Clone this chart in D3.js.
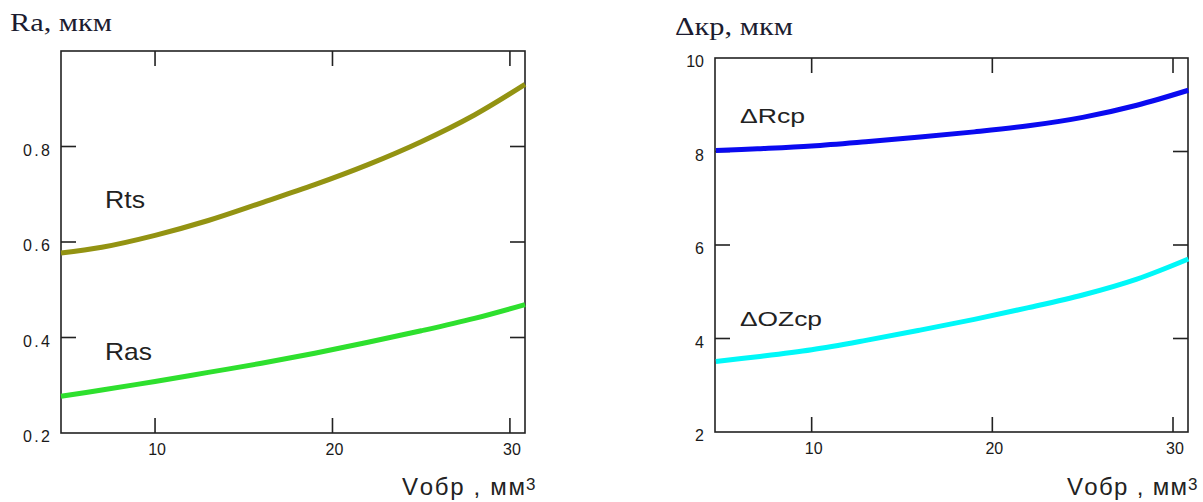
<!DOCTYPE html>
<html>
<head>
<meta charset="utf-8">
<script src="https://cdn.jsdelivr.net/npm/d3@7"></script>
<style>
  html, body { margin: 0; padding: 0; background: #fff; }
  svg { display: block; }
</style>
</head>
<body>
<svg id="chart" width="1203" height="502"></svg>
<script>
// ---- data ----
const vobr = [4.7, 7, 10, 13, 16, 19, 22, 25, 28, 30.85];
const Rts   = [0.577, 0.589, 0.614, 0.645, 0.682, 0.72, 0.762, 0.81, 0.866, 0.93];
const Ras   = [0.277, 0.29, 0.308, 0.327, 0.346, 0.367, 0.39, 0.414, 0.44, 0.469];
const dRcp  = [8.02, 8.06, 8.12, 8.21, 8.31, 8.42, 8.55, 8.73, 8.99, 9.31];
const dOZcp = [3.51, 3.61, 3.76, 3.96, 4.18, 4.41, 4.66, 4.93, 5.27, 5.7];

const xTicks = [10, 20, 30];
const leftYTicks = [0.2, 0.4, 0.6, 0.8];
const leftYInner = [0.4, 0.6, 0.8];
const rightYTicks = [2, 4, 6, 8, 10];
const rightYInner = [4, 6, 8];

const svg = d3.select("#chart");

function panel(cfg) {
  const x = d3.scaleLinear().domain(cfg.xDomain).range([cfg.x0, cfg.x1]);
  const y = d3.scaleLinear().domain(cfg.yDomain).range([cfg.y0, cfg.y1]);
  const g = svg.append("g");
  const tl = 15;

  // frame
  g.append("rect").attr("x", cfg.x0).attr("y", cfg.y1)
    .attr("width", cfg.x1 - cfg.x0).attr("height", cfg.y0 - cfg.y1)
    .attr("fill", "none").attr("stroke", "#222").attr("stroke-width", 1.6);

  // inner ticks x (top & bottom)
  xTicks.forEach(t => {
    g.append("line").attr("x1", x(t)).attr("x2", x(t)).attr("y1", cfg.y0).attr("y2", cfg.y0 - tl)
      .attr("stroke", "#222").attr("stroke-width", 1.6);
    g.append("line").attr("x1", x(t)).attr("x2", x(t)).attr("y1", cfg.y1).attr("y2", cfg.y1 + tl)
      .attr("stroke", "#222").attr("stroke-width", 1.6);
  });
  // inner ticks y (left & right)
  cfg.yInner.forEach(t => {
    g.append("line").attr("x1", cfg.x0).attr("x2", cfg.x0 + tl).attr("y1", y(t)).attr("y2", y(t))
      .attr("stroke", "#222").attr("stroke-width", 1.6);
    g.append("line").attr("x1", cfg.x1 - tl).attr("x2", cfg.x1).attr("y1", y(t)).attr("y2", y(t))
      .attr("stroke", "#222").attr("stroke-width", 1.6);
  });

  // tick labels
  xTicks.forEach(t => {
    g.append("text").attr("x", x(t) + 2).attr("y", cfg.y0 + 22)
      .attr("text-anchor", "middle").attr("font-family", "Liberation Sans, Arial, sans-serif")
      .attr("font-size", 16).attr("fill", "#1a1a1a").text(t);
  });
  cfg.yTicks.forEach(t => {
    const txt = g.append("text").attr("x", cfg.x0 - 11).attr("y", y(t) + 9)
      .attr("text-anchor", "end").attr("font-family", "Liberation Sans, Arial, sans-serif")
      .attr("font-size", 16).attr("fill", "#1a1a1a").text(cfg.yFmt(t));
    if (cfg.yLabelLen) txt.attr("textLength", cfg.yLabelLen).attr("lengthAdjust", "spacing");
  });

  // lines
  const line = d3.line().x(d => x(d[0])).y(d => y(d[1])).curve(d3.curveCatmullRom.alpha(0.5));
  cfg.series.forEach(s => {
    g.append("path").datum(vobr.map((v, i) => [v, s.values[i]]))
      .attr("d", line).attr("fill", "none").attr("stroke", s.color)
      .attr("stroke-width", 5).attr("stroke-linecap", "butt");
    g.append("text").attr("x", s.lx).attr("y", s.ly)
      .attr("font-family", "Liberation Sans, Arial, sans-serif")
      .attr("font-size", s.fs).attr("fill", "#222")
      .attr("textLength", s.len).attr("lengthAdjust", "spacingAndGlyphs")
      .text(s.label);
  });

  // y title
  g.append("text").attr("x", cfg.ytX).attr("y", cfg.ytY)
    .attr("font-family", "Liberation Serif, Times New Roman, serif")
    .attr("font-size", 25).attr("fill", "#1c1c30")
    .attr("textLength", cfg.ytLen).attr("lengthAdjust", "spacingAndGlyphs")
    .text(cfg.yTitle);

  // x title
  g.append("text").attr("x", cfg.xtX).attr("y", 495)
    .attr("font-family", "Liberation Sans, Arial, sans-serif")
    .attr("font-size", 24).attr("fill", "#222")
    .attr("textLength", cfg.xtLen).attr("lengthAdjust", "spacing")
    .text("Vобр , мм");
  g.append("text").attr("x", cfg.xtX + cfg.xtLen + 1).attr("y", 490)
    .attr("font-family", "Liberation Sans, Arial, sans-serif")
    .attr("font-size", 17).attr("fill", "#222").text("3");
}

panel({
  x0: 61, x1: 525, y0: 433, y1: 51,
  xDomain: [4.7, 30.85], yDomain: [0.2, 1.0],
  yTicks: leftYTicks, yInner: leftYInner, yFmt: d => d.toFixed(1), yLabelLen: 27,
  series: [
    { values: Rts, color: "#939312", label: "Rts", lx: 105, ly: 208, fs: 24, len: 40 },
    { values: Ras, color: "#2ee02e", label: "Ras", lx: 105, ly: 360, fs: 24, len: 47 }
  ],
  yTitle: "Ra, мкм", ytX: 10, ytY: 31, ytLen: 102,
  xtX: 402, xtLen: 123
});

panel({
  x0: 715, x1: 1188, y0: 432, y1: 58,
  xDomain: [4.65, 30.83], yDomain: [2, 10],
  yTicks: rightYTicks, yInner: rightYInner, yFmt: d => String(d), yLabelLen: null,
  series: [
    { values: dRcp, color: "#0a0af0", label: "ΔRcp", lx: 740, ly: 123, fs: 21, len: 65 },
    { values: dOZcp, color: "#00f8f8", label: "ΔOZcp", lx: 740, ly: 326, fs: 21, len: 82 }
  ],
  yTitle: "Δкр, мкм", ytX: 675, ytY: 35, ytLen: 118,
  xtX: 1067, xtLen: 120
});
</script>
</body>
</html>
